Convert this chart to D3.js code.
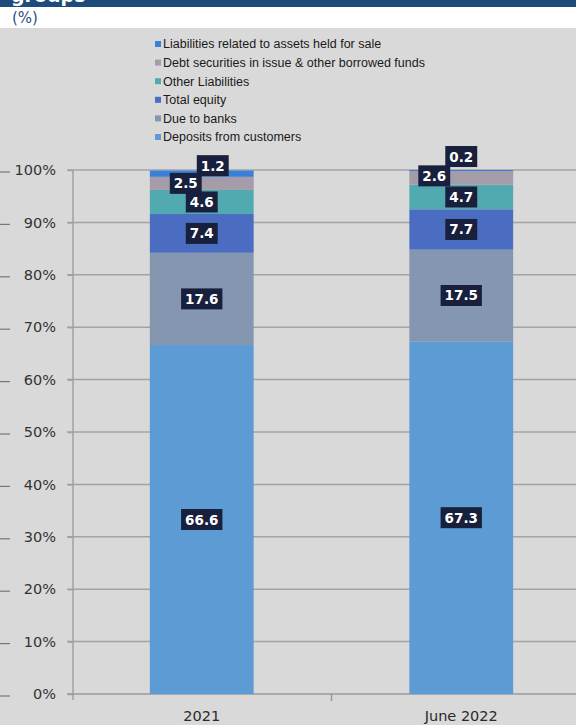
<!DOCTYPE html>
<html>
<head>
<meta charset="utf-8">
<script src="https://cdn.jsdelivr.net/npm/d3@7/dist/d3.min.js"></script>
<style>
  html, body { margin: 0; padding: 0; background: #ffffff; }
  svg { display: block; }
</style>
</head>
<body>
<svg id="chart" width="576" height="725"></svg>
<script>
// Categories (x axis) and stacked series, bottom to top
const categories = ["2021", "June 2022"];
const seriesNames = [
  "Deposits from customers",
  "Due to banks",
  "Total equity",
  "Other Liabilities",
  "Debt securities in issue & other borrowed funds",
  "Liabilities related to assets held for sale"
];
const depositsFromCustomers = [66.6, 67.3];
const dueToBanks = [17.6, 17.5];
const totalEquity = [7.4, 7.7];
const otherLiabilities = [4.6, 4.7];
const debtSecurities = [2.5, 2.6];
const liabilitiesHeldForSale = [1.2, 0.2];
const yTicks = [0, 10, 20, 30, 40, 50, 60, 70, 80, 90, 100];

const seriesValues = [depositsFromCustomers, dueToBanks, totalEquity,
                      otherLiabilities, debtSecurities, liabilitiesHeldForSale];
const colors = ["#5d9bd4", "#8496b0", "#4a6cc1", "#52aab1", "#a49ca8", "#3a80d6"];

// Rows for d3.stack
const rows = categories.map((c, i) => {
  const r = { category: c };
  seriesNames.forEach((s, k) => { r[s] = seriesValues[k][i]; });
  return r;
});
const stacked = d3.stack().keys(seriesNames)(rows);

const svg = d3.select("#chart");
const W = 576, H = 725;

// Header strip with clipped title and unit line
svg.append("rect").attr("x", 0).attr("y", 0).attr("width", W).attr("height", 7).attr("fill", "#1f4a7c");
svg.append("clipPath").attr("id", "hdr").append("rect").attr("x", 0).attr("y", 0).attr("width", W).attr("height", 7);
svg.append("text").attr("clip-path", "url(#hdr)")
  .attr("x", 11).attr("y", 2)
  .attr("font-family", "DejaVu Sans").attr("font-weight", "bold").attr("font-size", 19)
  .attr("fill", "#ffffff").text("groups");
svg.append("rect").attr("x", 0).attr("y", 7).attr("width", W).attr("height", 21).attr("fill", "#ffffff");
svg.append("text").attr("x", 12).attr("y", 23)
  .attr("font-family", "DejaVu Sans").attr("font-size", 15)
  .attr("fill", "#2f4f86").text("(%)");

// Chart area background
svg.append("rect").attr("x", 0).attr("y", 28).attr("width", W).attr("height", H - 28).attr("fill", "#d9d9d9");

// Scales
const x = d3.scaleBand().domain(categories).range([72, 591]).paddingInner(0).paddingOuter(0);
const barW = x.bandwidth() * 0.4;
const y = d3.scaleLinear().domain([0, 100]).range([694, 170]);

// Short dashes along the left edge at each tick level
svg.append("g").selectAll("line").data(yTicks).join("line")
  .attr("x1", 0).attr("x2", 10)
  .attr("y1", d => y(d) + 2).attr("y2", d => y(d) + 2)
  .attr("stroke", "#777777").attr("stroke-width", 1.2);

// Gridlines
svg.append("g").selectAll("line").data(yTicks.filter(d => d > 0)).join("line")
  .attr("x1", 67).attr("x2", W)
  .attr("y1", d => y(d)).attr("y2", d => y(d))
  .attr("stroke", "#a3a3a3").attr("stroke-width", 1.5);

// Y axis
const yAxis = d3.axisLeft(y).tickValues(yTicks).tickFormat(d => d + "%").tickSize(5).tickPadding(12);
const gy = svg.append("g").attr("transform", "translate(73,0)").call(yAxis);
gy.select(".domain").attr("stroke", "#a0a0a0").attr("stroke-width", 1.5)
  .attr("d", `M0,${y(100)}V${y(0) + 6}`);
gy.selectAll(".tick line").attr("stroke", "#a0a0a0").attr("stroke-width", 1.5);
gy.selectAll(".tick text").attr("font-family", "DejaVu Sans").attr("font-size", 14.5)
  .attr("fill", "#333333");

// X axis
const xAxis = d3.axisBottom(x).tickSize(0).tickPadding(14);
const gx = svg.append("g").attr("transform", `translate(0,${y(0)})`).call(xAxis);
gx.select(".domain").attr("stroke", "#9a9a9a").attr("stroke-width", 1.5).attr("d", `M67,0H${W}`);
gx.selectAll(".tick text").attr("font-family", "DejaVu Sans").attr("font-size", 14.5)
  .attr("fill", "#2a2a2a").attr("dy", "0.9em");
// category separator tick
svg.append("line")
  .attr("x1", x(categories[1])).attr("x2", x(categories[1]))
  .attr("y1", y(0)).attr("y2", y(0) + 7)
  .attr("stroke", "#9a9a9a").attr("stroke-width", 1.5);

// Bars
const layers = svg.append("g").selectAll("g").data(stacked).join("g")
  .attr("fill", (d, i) => colors[i]);
layers.selectAll("rect").data(d => d).join("rect")
  .attr("x", d => x(d.data.category) + (x.bandwidth() - barW) / 2)
  .attr("width", barW)
  .attr("y", d => y(d[1]))
  .attr("height", d => y(d[0]) - y(d[1]));

// Value labels; thin top segments get their label nudged clear of neighbours
const nudge = (k, i) => {
  if (k === 5) return i === 0 ? [11, -8] : [0, -14];
  if (k === 4) return i === 0 ? [-16, 0] : [-27, -2];
  return [0, 0];
};
const labels = [];
stacked.forEach((layer, k) => {
  layer.forEach((d, i) => {
    const v = seriesValues[k][i];
    const [dx, dy] = nudge(k, i);
    labels.push({
      text: v.toFixed(1),
      cx: x(d.data.category) + x.bandwidth() / 2 + dx,
      cy: y((d[0] + d[1]) / 2) + dy
    });
  });
});
const lg = svg.append("g").selectAll("g").data(labels).join("g")
  .attr("transform", d => `translate(${d.cx},${d.cy})`);
lg.append("text")
  .attr("text-anchor", "middle").attr("dy", "0.37em")
  .attr("font-family", "DejaVu Sans").attr("font-weight", "bold").attr("font-size", 13.5)
  .attr("fill", "#ffffff").text(d => d.text);
lg.each(function () {
  const g = d3.select(this);
  const w = g.select("text").node().getComputedTextLength();
  g.insert("rect", "text")
    .attr("x", -w / 2 - 4).attr("y", -10.5)
    .attr("width", w + 8).attr("height", 21)
    .attr("fill", "#18203d");
});

// Legend, top series first
const legendOrder = seriesNames.map((s, k) => k).reverse();
const leg = svg.append("g").selectAll("g").data(legendOrder).join("g")
  .attr("transform", (k, j) => `translate(155,${44 + j * 18.6})`);
leg.append("rect").attr("x", 0).attr("y", -3).attr("width", 6).attr("height", 6)
  .attr("fill", k => colors[k]);
leg.append("text").attr("x", 8).attr("dy", "0.35em")
  .attr("font-family", "Liberation Sans").attr("font-size", 12.5)
  .attr("fill", "#1a1a1a").text(k => seriesNames[k]);
</script>
</body>
</html>
